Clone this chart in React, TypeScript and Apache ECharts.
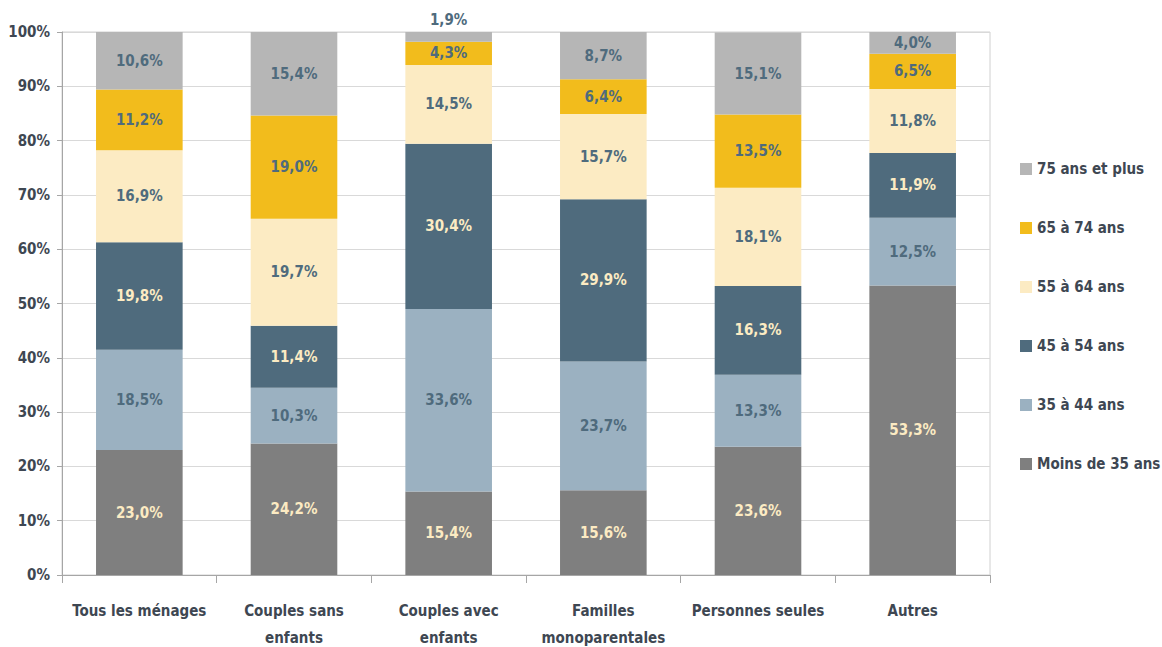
import React, { useEffect, useRef } from "react";
import * as echarts from "echarts";

const categories = [
  "Tous les ménages",
  "Couples sans\nenfants",
  "Couples avec\nenfants",
  "Familles\nmonoparentales",
  "Personnes seules",
  "Autres",
];

const seriesNames = [
  "Moins de 35 ans",
  "35 à 44 ans",
  "45 à 54 ans",
  "55 à 64 ans",
  "65 à 74 ans",
  "75 ans et plus",
];

const moins35 = [23.0, 24.2, 15.4, 15.6, 23.6, 53.3];
const a35_44 = [18.5, 10.3, 33.6, 23.7, 13.3, 12.5];
const a45_54 = [19.8, 11.4, 30.4, 29.9, 16.3, 11.9];
const a55_64 = [16.9, 19.7, 14.5, 15.7, 18.1, 11.8];
const a65_74 = [11.2, 19.0, 4.3, 6.4, 13.5, 6.5];
const a75plus = [10.6, 15.4, 1.9, 8.7, 15.1, 4.0];

const yTicks = [0, 10, 20, 30, 40, 50, 60, 70, 80, 90, 100];

const seriesValues = [moins35, a35_44, a45_54, a55_64, a65_74, a75plus];
const colors = ["#7f7f7f", "#9bb1c1", "#4f6b7d", "#fcebc3", "#f2bc1c", "#b6b6b6"];
const labelColors = ["#fcebc3", "#4f6b7d", "#fcebc3", "#4f6b7d", "#4f6b7d", "#4f6b7d"];

const FONT = "'Liberation Sans Narrow', 'DejaVu Sans Condensed', 'Open Sans', sans-serif";
const TEXT = "#3e4752";

export default function App() {
  const ref = useRef<HTMLDivElement>(null);
  useEffect(() => {
    if (!ref.current) return;
    const chart = echarts.init(ref.current, null, { renderer: "svg" });
    const fmt = (v: number) => v.toFixed(1).replace(".", ",") + "%";
    chart.setOption({
      animation: false,
      textStyle: { fontFamily: FONT },
      grid: {
        left: 62,
        right: 172,
        top: 32,
        bottom: 72,
        outerBoundsMode: "none",
        containLabel: false,
        show: true,
        borderColor: "#d0d0d0",
        borderWidth: 1,
      },
      legend: {
        orient: "vertical",
        left: 1015,
        top: 155,
        itemWidth: 12,
        itemHeight: 12,
        itemGap: 41,
        icon: "rect",
        data: [...seriesNames].reverse(),
        textStyle: {
          fontFamily: FONT,
          fontSize: 15,
          fontWeight: "bold",
          color: TEXT,
          lineHeight: 18,
        },
      },
      xAxis: {
        type: "category",
        data: categories,
        axisLine: { lineStyle: { color: "#a6a6a6" } },
        axisTick: { show: true, length: 8, lineStyle: { color: "#a6a6a6" } },
        axisLabel: {
          fontFamily: FONT,
          fontSize: 15,
          fontWeight: "bold",
          color: TEXT,
          margin: 22,
          lineHeight: 27,
          interval: 0,
        },
      },
      yAxis: {
        type: "value",
        min: yTicks[0],
        max: yTicks[yTicks.length - 1],
        interval: 10,
        axisLine: { show: true, lineStyle: { color: "#a6a6a6" } },
        axisTick: { show: true, length: 5, lineStyle: { color: "#a6a6a6" } },
        splitLine: { lineStyle: { color: "#d9d9d9" } },
        axisLabel: {
          fontFamily: FONT,
          fontSize: 15,
          fontWeight: "bold",
          color: TEXT,
          margin: 12,
          formatter: (v: number) => v + "%",
        },
      },
      series: seriesNames.map((name, i) => ({
        name,
        type: "bar",
        stack: "total",
        barCategoryGap: "44%",
        itemStyle: { color: colors[i] },
        label: {
          show: true,
          position: "inside",
          fontFamily: FONT,
          fontSize: 15,
          fontWeight: "bold",
          color: labelColors[i],
          formatter: (p: any) => fmt(p.value),
        },
        data: seriesValues[i].map((v) =>
          v < 3
            ? { value: v, label: { position: "top", distance: 5 } }
            : v
        ),
      })),
    });
    return () => chart.dispose();
  }, []);
  return <div ref={ref} style={{ width: 1162, height: 647, position: "absolute", left: 0, top: 0, background: "#fff" }} />;
}
